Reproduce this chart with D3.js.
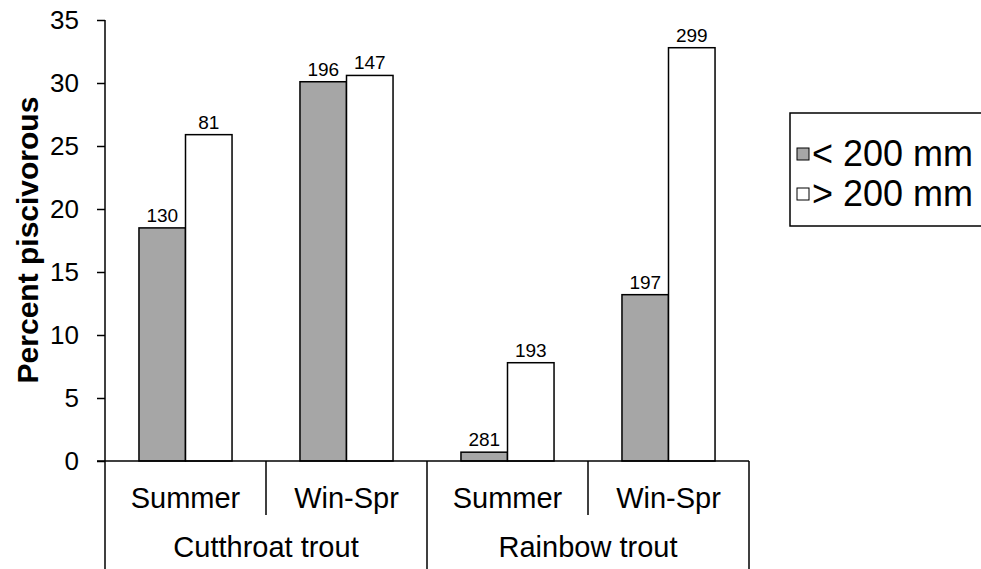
<!DOCTYPE html>
<html lang="en">
<head>
  <meta charset="UTF-8">
  <title>Percent piscivorous</title>
  <script src="https://d3js.org/d3.v7.min.js"></script>
  <style>
    body {
      margin: 0;
      background: #fff;
      font-family: "Liberation Sans", Arial, sans-serif;
    }
    text { fill: #000; }
  </style>
</head>
<body>
  <svg width="981" height="569"></svg>
  <script>
    // data
    const species = ["Cutthroat trout", "Rainbow trout"];
    const seasons = ["Summer", "Win-Spr"];
    const series = ["< 200 mm", "> 200 mm"];
    const small = [18.5, 30.1, 0.7, 13.2];   // < 200 mm
    const large = [25.9, 30.6, 7.8, 32.8];   // > 200 mm
    const nSmall = [130, 196, 281, 197];
    const nLarge = [81, 147, 193, 299];
    const yTicks = [0, 5, 10, 15, 20, 25, 30, 35];

    const svg = d3.select("svg");
    const plotL = 105, plotR = 749, plotT = 20, base = 461;

    const cats = [];
    species.forEach(sp => seasons.forEach(se => cats.push(sp + "|" + se)));

    const x = d3.scaleBand().domain(cats).range([plotL, plotR]);
    const xs = d3.scaleBand().domain(series).range([0, x.bandwidth()])
      .paddingInner(0).paddingOuter(0.73);
    const y = d3.scaleLinear().domain([0, 35]).range([base, plotT]);
    const fills = ["#a6a6a6", "#ffffff"];

    // y axis
    const yAxis = svg.append("g")
      .attr("transform", `translate(${plotL},0)`)
      .call(d3.axisLeft(y).tickValues(yTicks).tickSize(8).tickPadding(18).tickFormat(d3.format("d")));
    yAxis.select(".domain").remove();
    yAxis.selectAll("line").attr("stroke", "#000").attr("stroke-width", 1.5);
    yAxis.selectAll("text")
      .style("font-family", "'Liberation Sans', Arial, sans-serif")
      .style("font-size", "26px").attr("fill", "#000");

    svg.append("text")
      .attr("transform", `translate(38,240) rotate(-90)`)
      .attr("text-anchor", "middle")
      .style("font-size", "30px").style("font-weight", "bold")
      .text("Percent piscivorous");

    // bars
    const rows = cats.map((c, i) => ({ cat: c, vals: [small[i], large[i]], ns: [nSmall[i], nLarge[i]] }));
    const g = svg.append("g");
    rows.forEach(r => {
      series.forEach((s, j) => {
        const x0 = x(r.cat) + xs(s);
        g.append("rect")
          .attr("x", x0).attr("y", y(r.vals[j]))
          .attr("width", xs.bandwidth()).attr("height", y(0) - y(r.vals[j]))
          .attr("fill", fills[j]).attr("stroke", "#000").attr("stroke-width", 1.5);
        g.append("text")
          .attr("x", x0 + xs.bandwidth() / 2).attr("y", y(r.vals[j]) - 6)
          .attr("text-anchor", "middle").style("font-size", "19px")
          .text(r.ns[j]);
      });
    });

    // axis lines
    svg.append("line").attr("x1", plotL).attr("x2", plotL).attr("y1", plotT).attr("y2", 569)
      .attr("stroke", "#000").attr("stroke-width", 1.5);
    svg.append("line").attr("x1", plotL - 8).attr("x2", plotR).attr("y1", base).attr("y2", base)
      .attr("stroke", "#000").attr("stroke-width", 1.5);

    // season labels
    cats.forEach(c => {
      svg.append("text").attr("x", x(c) + x.bandwidth() / 2).attr("y", base + 47)
        .attr("text-anchor", "middle").style("font-size", "29px")
        .text(c.split("|")[1]);
    });

    // species labels and dividers
    const spW = x.bandwidth() * 2;
    species.forEach((sp, k) => {
      const sx = plotL + k * spW;
      svg.append("text").attr("x", sx + spW / 2).attr("y", base + 96)
        .attr("text-anchor", "middle").style("font-size", "29px").text(sp);
      const mid = x(sp + "|" + seasons[1]);
      svg.append("line").attr("x1", mid).attr("x2", mid)
        .attr("y1", base).attr("y2", base + 54).attr("stroke", "#000").attr("stroke-width", 1.5);
      svg.append("line").attr("x1", sx + spW).attr("x2", sx + spW)
        .attr("y1", base).attr("y2", 569).attr("stroke", "#000").attr("stroke-width", 1.5);
    });

    // legend
    const lg = svg.append("g").attr("transform", "translate(790,113)");
    lg.append("rect").attr("x", 0).attr("y", 0).attr("width", 220).attr("height", 113)
      .attr("fill", "#fff").attr("stroke", "#000").attr("stroke-width", 1.5);
    series.forEach((s, j) => {
      const ly = 41 + j * 40;
      lg.append("rect").attr("x", 7).attr("y", ly - 6).attr("width", 12).attr("height", 12)
        .attr("fill", fills[j]).attr("stroke", "#000").attr("stroke-width", 1);
      lg.append("text").attr("x", 22).attr("y", ly + 12)
        .style("font-size", "36px").text(s);
    });
  </script>
</body>
</html>
